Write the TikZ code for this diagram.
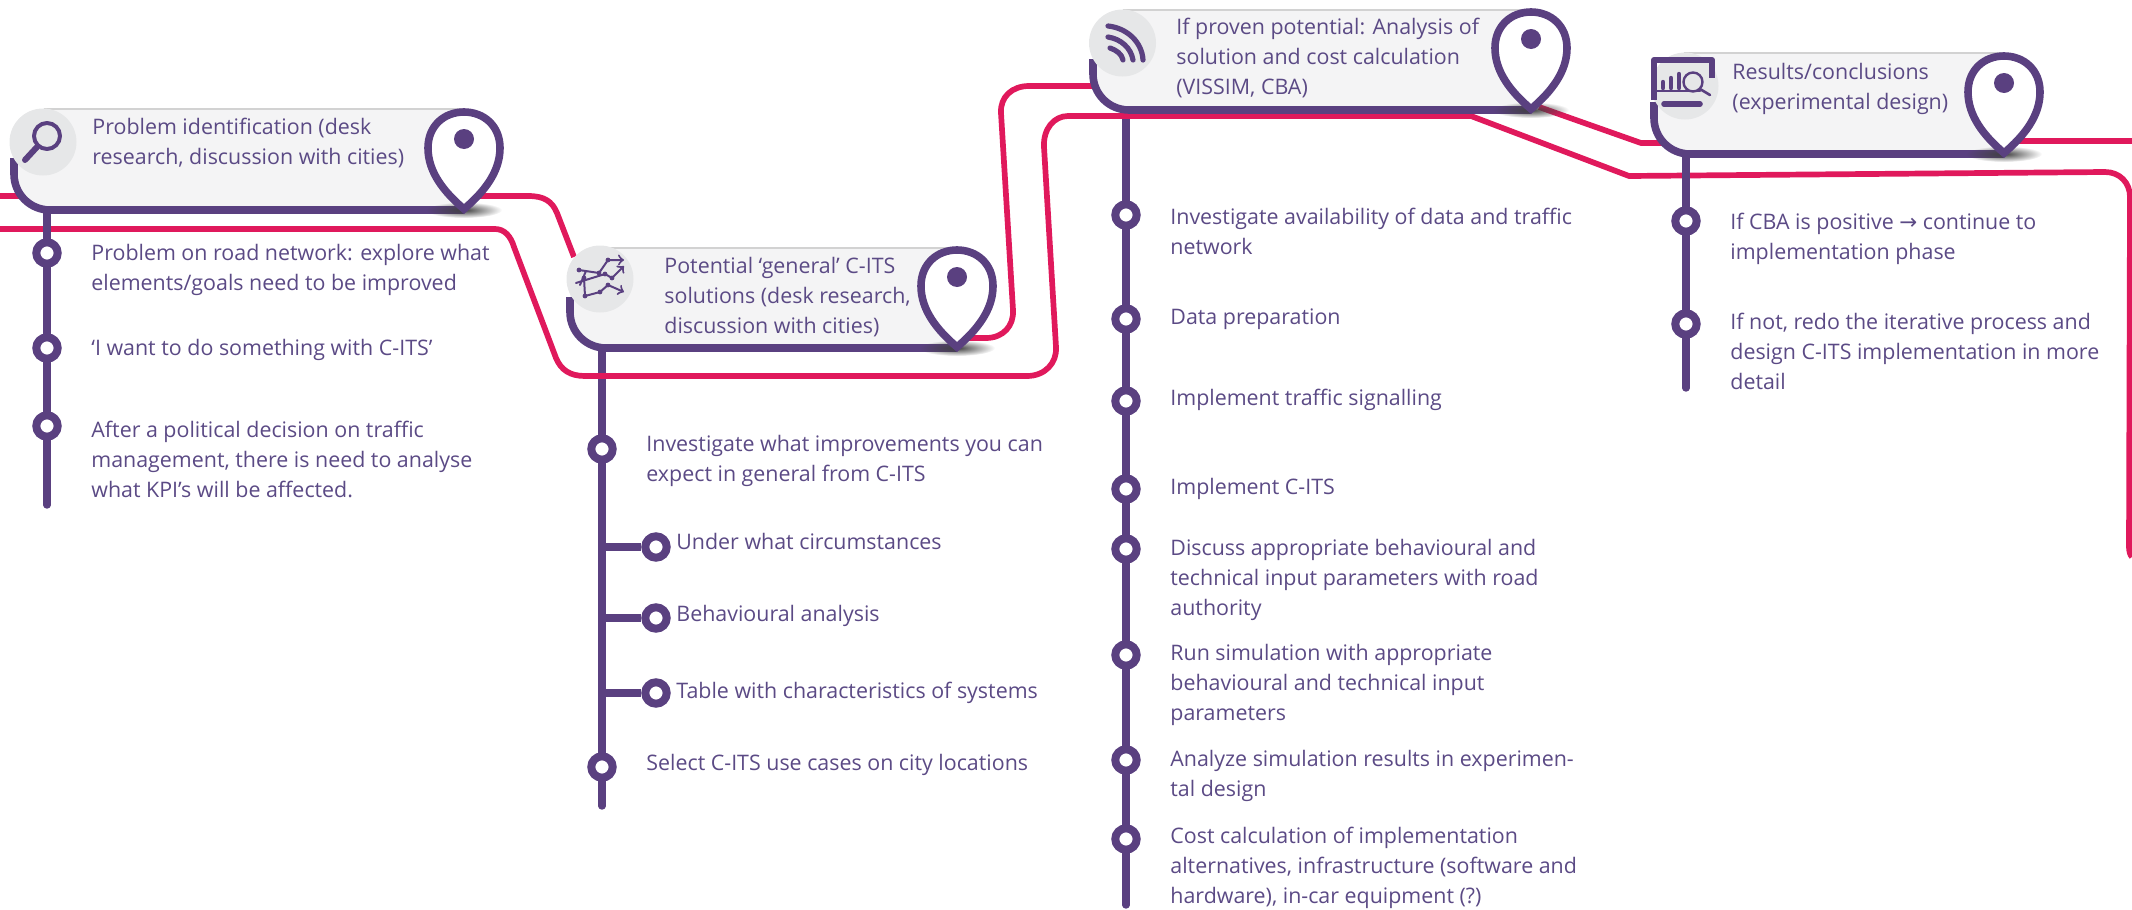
\documentclass[tikz,border=0pt]{standalone}
\usepackage{fontspec}
\setmainfont{Open Sans}
\newfontfamily\arrowfont{DejaVu Sans}
\usetikzlibrary{fadings}
\tikzfading[name=softedge,inner color=transparent!0,outer color=transparent!100]
\definecolor{plum}{HTML}{5A4080}
\definecolor{plumtext}{HTML}{5B4A85}
\definecolor{roadred}{HTML}{E0195C}
\definecolor{bandfill}{HTML}{F4F4F5}
\definecolor{discfill}{HTML}{E6E7E8}
\tikzset{
  road/.style={draw=roadred,line width=2.85pt,line join=round},
  spine/.style={draw=plum,line width=3.7pt,line cap=round},
  ringmark/.style={circle,draw=plum,line width=4pt,fill=white,minimum size=10.7pt,inner sep=0pt},
  label/.style={anchor=west,align=left,inner sep=0pt,xshift=-0.5pt,yshift=-1.1pt,text=plumtext,font=\fontsize{10.7}{15}\selectfont},
  glyph/.style={draw=plum,line width=1.6pt,line cap=round,line join=round},
}
% xleft, top, bottom, pinx, disc x, disc y
\newcommand{\headband}[6]{%
  \fill[bandfill] (#1+30,#2) -- (#4,#2) -- (#4,#3) -- (#1+36,#3)
     .. controls (#1+16,#3) and (#1,#3-16) .. (#1,#3-36) -- (#1,#2+30) -- cycle;
  \draw[gray!35,line width=1.1pt] (#1+30,#2+1) -- (#4,#2+1);
  \draw[plum,line width=3.8pt] (#1,#2+50) -- (#1,#3-36)
     .. controls (#1,#3-16) and (#1+16,#3) .. (#1+36,#3) -- (#4,#3);
  \fill[discfill] (#5,#6) circle (33.5);
  \fill[black!75,path fading=softedge] (#4,#3) ellipse (38 and 8);
  \begin{scope}[shift={(#4,#3)}]
    \draw[plum,fill=white,line width=3.8pt,miter limit=10]
      (0,-1) .. controls (-20,-18) and (-36,-38) .. (-36,-62)
      .. controls (-36,-84) and (-20,-98) .. (0,-98)
      .. controls (20,-98) and (36,-84) .. (36,-62)
      .. controls (36,-38) and (20,-18) .. (0,-1) -- cycle;
    \fill[plum] (0,-71) circle (10);
  \end{scope}
}
\begin{document}
\begin{tikzpicture}[x=0.5pt,y=-0.5pt]
\useasboundingbox (0,0) rectangle (2132,910);
% free ends of the roads
\coordinate (rA0) at (0,196);
\coordinate (rA1) at (1093,86);
\coordinate (rA2) at (2132,141);
\coordinate (rB0) at (0,229);
\coordinate (rB1) at (2132,557);
% roads
\draw[road] (rA0) -- (528,196) .. controls (544,196) and (552,201) .. (557,213) -- (574,257);
\draw[road] (965,338) -- (986,338) .. controls (1003,338) and (1014,326) .. (1013,310)
  -- (1001,113) .. controls (1000,97) and (1012,86) .. (1029,86) -- (rA1);
\draw[road] (1539,107) -- (1641,143) -- (1664,143);
\draw[road] (2015,141) -- (rA2);
\draw[road] (rB0) -- (495,229) .. controls (505,229) and (511,237) .. (514,247)
  -- (556,358) .. controls (561,370) and (570,376) .. (585,376)
  -- (1027,376) .. controls (1045,376) and (1057,363) .. (1056,347)
  -- (1044,147) .. controls (1043,129) and (1054,116) .. (1068,116)
  -- (1471,116) -- (1629,176) -- (2105,172)
  .. controls (2120,172) and (2130,183) .. (2130,197) -- (2129,547)
  .. controls (2129,551) and (2130,555) .. (rB1);
% spines
\coordinate (e1) at (47,505);
\coordinate (e2) at (602,806);
\coordinate (e3) at (1126,905);
\coordinate (e4) at (1686,388);
\coordinate (s1) at (47,205);
\coordinate (s2) at (602,345);
\coordinate (s3) at (1126,105);
\coordinate (s4) at (1686,150);
\draw[spine] (s1) -- (e1);
\draw[spine] (s2) -- (e2);
\draw[spine] (s3) -- (e3);
\draw[spine] (s4) -- (e4);
% road stays on top of the two middle spines
\coordinate (xa) at (590,376);
\coordinate (xb) at (615,376);
\coordinate (xc) at (1114,116);
\coordinate (xd) at (1138,116);
\draw[road] (xa) -- (xb);
\draw[road] (xc) -- (xd);
% branch stubs and rings
\node[ringmark] (a1) at (47,253) {};
\node[ringmark] (a2) at (47,348) {};
\node[ringmark] (a3) at (47,426) {};
\node[ringmark] (b1) at (602,449) {};
\node[ringmark] (b2) at (656,547) {};
\node[ringmark] (b3) at (656,618) {};
\node[ringmark] (b4) at (656,693) {};
\node[ringmark] (b5) at (602,767) {};
\coordinate (j2) at (602,547);
\coordinate (j3) at (602,618);
\coordinate (j4) at (602,693);
\draw[spine,line cap=butt] (j2) -- (b2);
\draw[spine,line cap=butt] (j3) -- (b3);
\draw[spine,line cap=butt] (j4) -- (b4);
\node[ringmark] (c1) at (1126,215) {};
\node[ringmark] (c2) at (1126,319) {};
\node[ringmark] (c3) at (1126,401) {};
\node[ringmark] (c4) at (1126,489) {};
\node[ringmark] (c5) at (1126,549) {};
\node[ringmark] (c6) at (1126,655) {};
\node[ringmark] (c7) at (1126,760) {};
\node[ringmark] (c8) at (1126,839) {};
\node[ringmark] (d1) at (1686,221) {};
\node[ringmark] (d2) at (1686,324) {};
% header bands
\headband{14}{108}{210}{464}{43}{142}
\headband{570}{247}{348}{957}{600}{279}
\headband{1093}{9}{110}{1531}{1122.5}{43}
\headband{1654}{52}{154}{2004}{1685}{86}
% icon 1: magnifier
\draw[glyph,line width=2pt] (47,136) circle (13);
\draw[glyph,line width=3pt] (37,147) -- (25,160);
% icon 2: chart lines
\begin{scope}[glyph,line width=1pt,fill=plum]
  \draw[->] (579,270) -- (599,273) -- (608,260) -- (624,260);
  \draw[->] (576,283) -- (605,274) -- (612,278) -- (624,266);
  \draw[->] (584,278) -- (585,296) -- (600,292) -- (608,285) -- (624,292);
  \draw (586,271) -- (580,285);
  \fill[plum] (579,270) circle (2.4) (599,273) circle (2.4) (608,260) circle (2.4)
    (605,274) circle (2.4) (612,278) circle (2.4) (584,278) circle (2.4)
    (585,296) circle (2.4) (600,292) circle (2.4) (608,285) circle (2.4);
\end{scope}
% icon 3: signal arcs
\begin{scope}[glyph,line width=2.6pt]
  \draw (1108,26) .. controls (1127,28) and (1142,42) .. (1143,60);
  \draw (1108,37) .. controls (1121,39) and (1131,48) .. (1133,60);
  \draw (1110,48) .. controls (1116,50) and (1122,54) .. (1123,60);
\end{scope}
% icon 4: screen with bars and magnifier
\begin{scope}[glyph]
  \draw[line width=3pt,line cap=butt] (1654,100) -- (1654,60) -- (1712,60) -- (1712,78);
  \draw[line width=1.2pt] (1654,91) -- (1700,91);
  \draw[line width=2.2pt] (1663,88) -- (1663,82);
  \draw[line width=2.2pt] (1671,88) -- (1671,78);
  \draw[line width=2.2pt] (1679,88) -- (1679,74);
  \draw[line width=1.2pt,fill=discfill] (1693,82) circle (9.5);
  \draw[line width=1.3pt] (1700,89) -- (1710,95);
  \draw[line width=2.8pt] (1664,104) -- (1700,104);
\end{scope}
% header texts
\node[label] (t1) at (93,141) {Problem identification (desk\\research, discussion with cities)};
\node[label] (t2) at (665,295) {Potential ‘general’ C-ITS\\solutions (desk research,\\discussion with cities)};
\node[label] (t3) at (1177,56) {If proven potential: Analysis of\\solution and cost calculation\\(VISSIM, CBA)};
\node[label] (t4) at (1733,87) {Results/conclusions\\(experimental design)};
% item texts
\node[label] at (92,268) {Problem on road network: explore what\\elements/goals need to be improved};
\node[label] at (92,348) {‘I want to do something with C-ITS’};
\node[label] at (92,457) {After a political decision on traffic\\management, there is need to analyse\\what KPI’s will be affected.};
\node[label] at (647,459) {Investigate what improvements you can\\expect in general from C-ITS};
\node[label] at (677,539) {Under what circumstances};
\node[label] at (677,614) {Behavioural analysis};
\node[label] at (677,691) {Table with characteristics of systems};
\node[label] at (647,763) {Select C-ITS use cases on city locations};
\node[label] at (1171,229) {Investigate availability of data and traffic\\network};
\node[label] at (1171,317) {Data preparation};
\node[label] at (1171,398) {Implement traffic signalling};
\node[label] at (1171,487) {Implement C-ITS};
\node[label] at (1171,578) {Discuss appropriate behavioural and\\technical input parameters with road\\authority};
\node[label] at (1171,683) {Run simulation with appropriate\\behavioural and technical input\\parameters};
\node[label] at (1171,774) {Analyze simulation results in experimen-\\tal design};
\node[label] at (1171,866) {Cost calculation of implementation\\alternatives, infrastructure (software and\\hardware), in-car equipment (?)};
\node[label] at (1731,237) {If CBA is positive {\arrowfont →} continue to\\implementation phase};
\node[label] at (1731,349) {If not, redo the iterative process and\\design C-ITS implementation in more\\detail};
\end{tikzpicture}
\end{document}
